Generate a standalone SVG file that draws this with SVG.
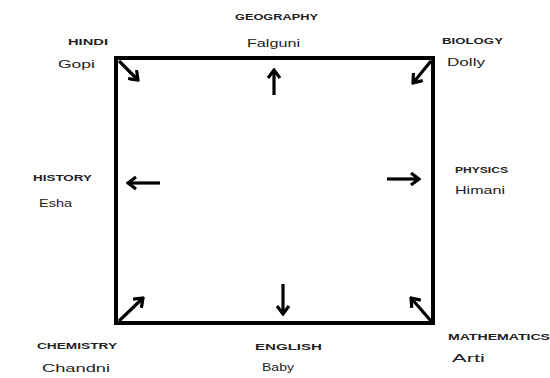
<svg xmlns="http://www.w3.org/2000/svg" width="550" height="378" viewBox="0 0 550 378">
<defs>
<marker id="ah" viewBox="0 0 12 14" refX="10" refY="7" markerWidth="12" markerHeight="14" markerUnits="userSpaceOnUse" orient="auto">
<polyline points="2,1 10,7 2,13" fill="none" stroke="#000" stroke-width="3.2" stroke-linejoin="miter"/>
</marker>
<style>
.sub{font-family:"Liberation Sans",Arial,sans-serif;font-size:9px;font-weight:bold;fill:#222;}
.nm{font-family:"Liberation Sans",Arial,sans-serif;font-size:11px;fill:#222;}
.arr{stroke:#000;stroke-width:3.2;fill:none;marker-end:url(#ah);}
</style>
</defs>
<rect width="550" height="378" fill="#fff"/>
<g id="connectors">
<rect x="116" y="58" width="317" height="265" fill="none" stroke="#000" stroke-width="4"/>
<line class="arr" x1="119" y1="61" x2="138" y2="80"/>
<line class="arr" x1="274" y1="95" x2="274" y2="70"/>
<line class="arr" x1="431" y1="61" x2="413" y2="83"/>
<line class="arr" x1="160" y1="183" x2="128" y2="183"/>
<line class="arr" x1="387" y1="179" x2="419" y2="179"/>
<line class="arr" x1="119" y1="321" x2="143" y2="298"/>
<line class="arr" x1="283" y1="284" x2="283" y2="314"/>
<line class="arr" x1="431" y1="321" x2="411" y2="298"/>
</g>
<g id="hindi">
<text class="sub" x="68" y="45" textLength="40" lengthAdjust="spacingAndGlyphs">HINDI</text>
<text class="nm" x="58" y="68" textLength="37" lengthAdjust="spacingAndGlyphs">Gopi</text>
</g>
<g id="geography">
<text class="sub" x="235" y="20" textLength="83" lengthAdjust="spacingAndGlyphs">GEOGRAPHY</text>
<text class="nm" x="247" y="47" textLength="53" lengthAdjust="spacingAndGlyphs">Falguni</text>
</g>
<g id="biology">
<text class="sub" x="442" y="44" textLength="61" lengthAdjust="spacingAndGlyphs">BIOLOGY</text>
<text class="nm" x="447" y="66" textLength="38" lengthAdjust="spacingAndGlyphs">Dolly</text>
</g>
<g id="history">
<text class="sub" x="33" y="181" textLength="59" lengthAdjust="spacingAndGlyphs">HISTORY</text>
<text class="nm" x="39" y="207" textLength="33" lengthAdjust="spacingAndGlyphs">Esha</text>
</g>
<g id="physics">
<text class="sub" x="455" y="173" textLength="53" lengthAdjust="spacingAndGlyphs">PHYSICS</text>
<text class="nm" x="455" y="194" textLength="50" lengthAdjust="spacingAndGlyphs">Himani</text>
</g>
<g id="chemistry">
<text class="sub" x="37" y="349" textLength="80" lengthAdjust="spacingAndGlyphs">CHEMISTRY</text>
<text class="nm" x="42" y="372" textLength="68" lengthAdjust="spacingAndGlyphs">Chandni</text>
</g>
<g id="english">
<text class="sub" x="255" y="350" textLength="67" lengthAdjust="spacingAndGlyphs">ENGLISH</text>
<text class="nm" x="262" y="371" textLength="32" lengthAdjust="spacingAndGlyphs">Baby</text>
</g>
<g id="mathematics">
<text class="sub" x="448" y="340" textLength="102" lengthAdjust="spacingAndGlyphs">MATHEMATICS</text>
<text class="nm" x="452" y="362" textLength="33" lengthAdjust="spacingAndGlyphs">Arti</text>
</g>
</svg>
